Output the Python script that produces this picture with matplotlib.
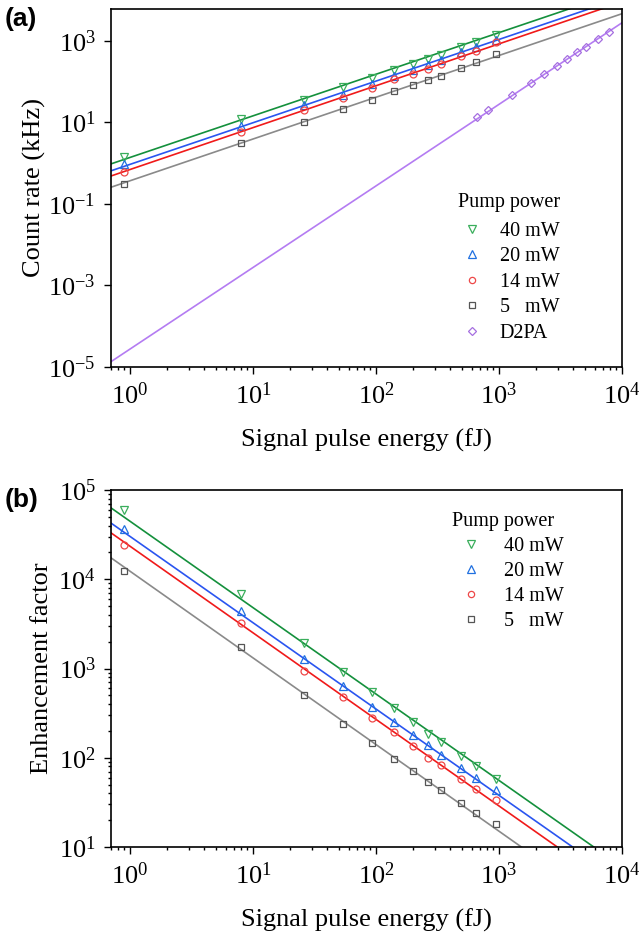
import numpy as np
import matplotlib
matplotlib.use('Agg')
import matplotlib.pyplot as plt

plt.rcParams['font.family'] = ['Liberation Serif', 'DejaVu Serif']
plt.rcParams['mathtext.fontset'] = 'stix'

# signal pulse energy (fJ)
energy = np.array([0.9, 8, 26, 54, 93, 140, 200, 265, 336, 490, 650, 950])

# count rate (kHz) for each pump power
count_40 = np.array([1.4, 11.8, 36, 72, 123, 190, 263, 347, 447, 700, 910, 1400])
count_20 = np.array([0.95, 8.1, 26, 46.5, 88, 134, 196, 258, 330, 530, 700, 1060])
count_14 = np.array([0.59, 5.8, 19.5, 40, 71, 112, 157, 208, 263, 415, 550, 910])
count_5 = np.array([0.3, 3.1, 10, 21, 36, 57, 81, 108, 140, 215, 295, 470])

# degenerate two-photon absorption
d2pa_energy = np.array([665, 818, 1282, 1807, 2333, 2978, 3590, 4335, 5070, 6410, 7830])
d2pa_count = np.array([13.5, 19.5, 46, 92, 152, 245, 360, 515, 700, 1120, 1680])

# enhancement factor
enh_40 = np.array([60000, 6900, 1950, 910, 540, 360, 250, 186, 150, 105, 81, 58])
enh_20 = np.array([36800, 4360, 1290, 635, 375, 250, 180, 138, 108, 77, 59, 43])
enh_14 = np.array([24000, 3200, 950, 480, 282, 195, 135, 99, 82, 58.5, 45, 34])
enh_5 = np.array([12300, 1740, 505, 241, 146, 98, 72, 54, 43, 31, 24, 18])

# power-law fits: log10(y) = a + b*log10(x)
count_fit_a = [0.138, -0.032, -0.158, -0.434]
count_fit_b = [1.02, 1.021, 1.027, 1.024]
d2pa_fit = (-4.56, 2.0)
enh_fit_a = [4.65, 4.48, 4.37, 4.09]
enh_fit_b = [-0.968, -0.967, -0.970, -0.971]

labels = ['40 mW', '20 mW', '14 mW', '5   mW']
markers = ['v', '^', 'o', 's']
msizes = [6, 6, 5, 4.2]
line_cols = ['#14903c', '#2a55f0', '#f01a1a', '#8a8a8a']
mark_cols = ['#3aae5c', '#2070e0', '#ee4848', '#555555']
d2pa_line = '#b47cf2'
d2pa_mark = '#a56ee0'

xfit = np.logspace(np.log10(0.5), 4.2, 200)


def power_law(a, b):
    return 10 ** (a + b * np.log10(xfit))


def style_axes(ax, ylim, ylabel):
    ax.set_xscale('log')
    ax.set_yscale('log')
    ax.set_xlim(0.7, 1e4)
    ax.set_ylim(*ylim)
    ax.tick_params(which='both', direction='out', top=False, right=False, labelsize=19, width=1)
    ax.tick_params(which='major', length=5, pad=6)
    ax.tick_params(which='minor', length=2.5)
    ax.set_xlabel('Signal pulse energy (fJ)', fontsize=19, labelpad=14)
    ax.set_ylabel(ylabel, fontsize=19)
    for s in ax.spines.values():
        s.set_linewidth(1.2)


fig = plt.figure(figsize=(6.39, 9.35), dpi=100)
ax1 = fig.add_axes([0.1737, 0.6075, 0.7997, 0.3829])
ax2 = fig.add_axes([0.1737, 0.0941, 0.7997, 0.3818])

# (a) count rate
counts = [count_40, count_20, count_14, count_5]
for i, y in enumerate(counts):
    ax1.plot(xfit, power_law(count_fit_a[i], count_fit_b[i]), color=line_cols[i], lw=1.2)
    ax1.plot(energy, y, ls='none', marker=markers[i], ms=msizes[i], mfc='none',
             mec=mark_cols[i], mew=0.9, label=labels[i])
ax1.plot(xfit, power_law(*d2pa_fit), color=d2pa_line, lw=1.2)
ax1.plot(d2pa_energy, d2pa_count, ls='none', marker='D', ms=4, mfc='none', mec=d2pa_mark,
         mew=0.9, label='D2PA')
style_axes(ax1, (1e-5, 6000), 'Count rate (kHz)')
leg1 = ax1.legend(title='Pump power', loc='upper left', bbox_to_anchor=(0.68, 0.486),
                  frameon=False, fontsize=14.5, title_fontsize=14.5, handlelength=1.3,
                  handletextpad=0.75, labelspacing=0.32, borderaxespad=0, borderpad=0,
                  alignment='left', markerscale=0.9)
leg1._legend_box.sep = 7

# (b) enhancement factor
enhs = [enh_40, enh_20, enh_14, enh_5]
for i, y in enumerate(enhs):
    ax2.plot(xfit, power_law(enh_fit_a[i], enh_fit_b[i]), color=line_cols[i], lw=1.2)
    ax2.plot(energy, y, ls='none', marker=markers[i], ms=msizes[i], mfc='none',
             mec=mark_cols[i], mew=0.9, label=labels[i])
style_axes(ax2, (10, 1e5), 'Enhancement factor')
leg2 = ax2.legend(title='Pump power', loc='upper left', bbox_to_anchor=(0.668, 0.938),
                  frameon=False, fontsize=14.5, title_fontsize=14.5, handlelength=1.9,
                  handletextpad=0.65, labelspacing=0.3, borderaxespad=0, borderpad=0,
                  alignment='left', markerscale=0.9)
leg2._legend_box.sep = 4

ax1.yaxis.set_label_coords(-0.128, 0.5)
ax2.yaxis.set_label_coords(-0.113, 0.5)

fig.text(0.008, 0.993, '(a)', fontsize=19, fontweight='bold', family='Liberation Sans', va='top')
fig.text(0.008, 0.478, '(b)', fontsize=19, fontweight='bold', family='Liberation Sans', va='top')

fig.savefig('out.png', dpi=100)
